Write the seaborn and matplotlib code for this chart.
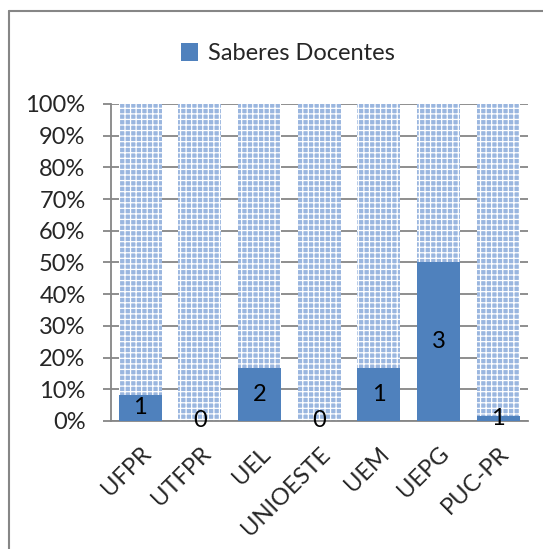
import matplotlib
matplotlib.use('Agg')
import matplotlib.pyplot as plt
import seaborn as sns
import numpy as np

# data
universities = ['UFPR', 'UTFPR', 'UEL', 'UNIOESTE', 'UEM', 'UEPG', 'PUC-PR']
saberes_pct = [8.3, 0.0, 16.7, 0.0, 16.7, 50.0, 1.5]
saberes_count = [1, 0, 2, 0, 1, 3, 1]
total_pct = [100] * len(universities)

sns.set_theme(style='white')
plt.rcParams['font.family'] = ['Lato', 'DejaVu Sans']
plt.rcParams['hatch.linewidth'] = 0.9

blue = '#4f81bd'
grey = '#868686'
fs = 17

fig = plt.figure(figsize=(5.43, 5.49), dpi=100)
ax = fig.add_axes([0.2035, 0.2332, 0.7689, 0.5774])

# background (rest of 100%) with pattern
sns.barplot(x=universities, y=total_pct, ax=ax, color='#9ab6df', width=0.72,
            saturation=1, edgecolor='white', linewidth=0, hatch='+++', zorder=2)
# solid series
sns.barplot(x=universities, y=saberes_pct, ax=ax, color=blue, width=0.72,
            saturation=1, linewidth=0, zorder=3, label='Saberes Docentes')

for i, (p, c) in enumerate(zip(saberes_pct, saberes_count)):
    ax.text(i, p / 2, str(c), ha='center', va='center', fontsize=fs,
            color='black', zorder=5)

ax.set_ylim(0, 100)
ax.set_xlim(-0.5, len(universities) - 0.5)
ax.set_yticks(np.arange(0, 101, 10))
ax.set_yticklabels([f'{v}%' for v in range(0, 101, 10)], fontsize=fs)
ax.yaxis.grid(True, color=grey, linewidth=1.3, zorder=0)
ax.set_axisbelow(True)

ax.set_xticks(range(len(universities)))
ax.set_xticklabels(universities, fontsize=fs, rotation=45, ha='right',
                   rotation_mode='anchor')
ax.set_xticks(np.arange(-0.5, len(universities), 1), minor=True)
ax.tick_params(axis='x', which='major', length=0, pad=16)
ax.tick_params(axis='x', which='minor', length=6, width=1.3, color=grey, direction='out')
ax.tick_params(axis='y', length=6, width=1.3, color=grey, pad=12, left=True)
ax.set_xlabel('')
ax.set_ylabel('')

for s in ['top', 'right']:
    ax.spines[s].set_visible(False)
for s in ['left', 'bottom']:
    ax.spines[s].set_color(grey)
    ax.spines[s].set_linewidth(1.3)

handles, labels = ax.get_legend_handles_labels()
fig.legend(handles, labels, loc='center', bbox_to_anchor=(0.53, 0.902),
           frameon=False, fontsize=fs, handlelength=0.75, handleheight=0.75,
           handletextpad=0.4)
if ax.get_legend():
    ax.get_legend().remove()

# outer chart border
fig.add_artist(plt.Line2D([9 / 543, 9 / 543], [0, 1 - 10.5 / 549],
                          transform=fig.transFigure, color=grey, linewidth=1.5))
fig.add_artist(plt.Line2D([9 / 543, 1], [1 - 10.5 / 549, 1 - 10.5 / 549],
                          transform=fig.transFigure, color=grey, linewidth=1.5))

fig.savefig('out.png', dpi=100)
